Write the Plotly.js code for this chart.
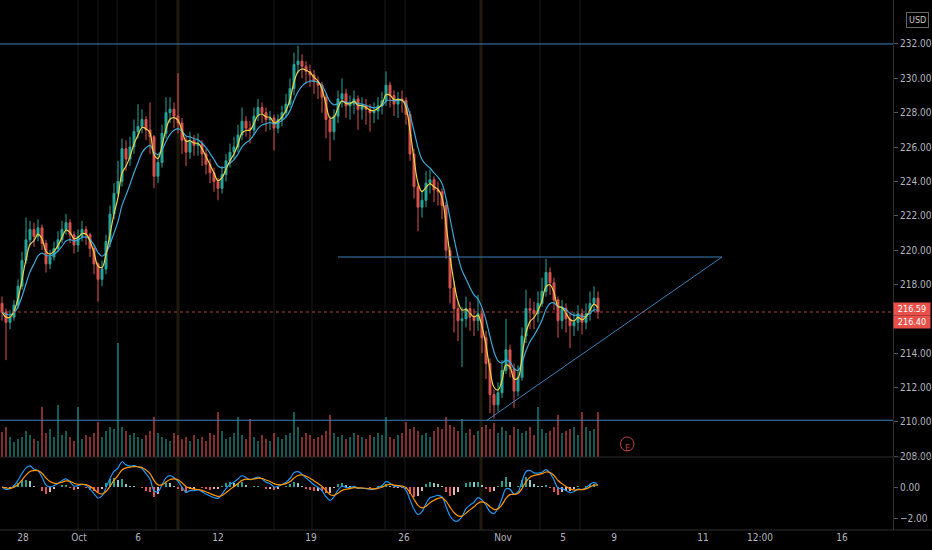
<!DOCTYPE html>
<html><head><meta charset="utf-8">
<script src="https://cdn.plot.ly/plotly-3.0.1.min.js"></script>
<style>html,body{margin:0;padding:0;background:#000;}#c{width:932px;height:550px;}</style>
</head><body><div id="c"></div>
<script>
const firstOpen = 216.9;
const closes = [216.4,215.8,216.1,216.8,217.9,219.4,220.6,221.2,220.8,221.3,
220.4,219.2,219.6,220.1,220.6,221.2,221.6,220.9,220.3,220.8,
221.2,220.9,220.1,219.2,218.3,218.9,220.5,222.1,223.3,224.0,
225.9,225.3,226.0,226.9,227.2,227.6,227.0,226.6,224.3,225.1,
226.8,228.0,228.2,227.8,227.4,226.4,225.7,226.4,226.1,226.2,
225.6,225.0,224.5,224.0,223.6,224.4,225.2,225.7,226.0,226.7,
227.5,227.1,227.0,227.8,228.3,228.0,227.6,227.7,227.1,227.6,
228.0,228.5,229.4,230.8,231.0,230.7,230.4,230.2,229.8,229.6,
228.9,227.6,226.9,227.8,228.8,229.1,228.4,228.5,228.8,228.2,
228.4,228.2,228.0,228.1,228.4,228.7,229.6,229.0,228.5,228.8,
228.7,227.9,225.6,223.7,222.5,222.9,223.9,224.1,223.5,223.4,
222.6,220.0,217.8,216.6,215.9,216.0,216.6,216.1,215.9,216.3,
214.9,213.4,211.6,211.0,211.7,213.0,214.2,213.1,211.8,212.6,
215.0,216.6,216.5,216.3,216.9,217.6,218.7,218.1,217.1,215.9,
216.6,216.0,215.6,215.8,216.3,215.8,216.3,216.9,217.2,216.4];
const highs = [217.3,216.6,216.5,217.1,218.3,219.9,221.9,221.7,221.6,221.8,
221.5,220.6,220.0,220.5,221.1,221.7,222.1,221.8,221.1,221.2,
221.7,221.4,221.0,220.3,219.3,219.4,220.9,222.6,223.9,225.2,
226.5,226.4,226.6,227.6,228.5,228.2,227.8,228.6,226.7,225.6,
227.3,228.9,228.9,228.6,230.3,227.7,226.6,226.9,226.7,226.8,
226.4,225.9,225.3,224.8,224.2,224.9,225.6,226.2,226.6,227.3,
228.3,227.8,227.5,228.3,228.8,228.6,228.3,228.1,227.9,227.9,
228.4,229.1,230.0,231.5,231.9,231.4,231.0,230.8,230.5,230.1,
229.8,229.1,227.8,228.2,229.3,230.0,229.4,229.0,229.3,229.0,
228.9,228.8,228.5,228.6,228.9,229.2,230.4,229.8,229.3,229.2,
229.3,228.9,228.1,225.9,223.9,223.5,224.6,224.7,224.3,224.0,
223.6,222.8,220.2,218.2,217.0,216.7,217.3,217.0,216.6,217.4,
216.6,215.3,213.7,211.9,212.3,213.6,216.0,214.5,213.4,213.3,
215.5,217.7,217.2,217.0,217.6,218.4,219.5,219.0,218.4,217.3,
217.1,216.9,216.3,216.4,216.8,216.6,216.9,217.6,217.9,217.6];
const lows = [215.9,213.6,215.4,215.9,216.6,217.7,219.2,220.3,220.2,220.5,
220.0,218.7,218.9,219.4,219.9,220.4,220.9,220.4,219.8,219.9,
220.5,220.3,219.6,218.6,217.0,217.9,218.6,220.2,221.8,223.2,
223.7,224.6,224.9,225.6,226.5,226.8,226.4,225.6,223.6,223.9,
224.8,226.5,227.4,227.1,226.8,225.6,224.9,225.3,225.5,225.5,
224.9,224.4,223.9,223.4,222.9,223.3,224.0,224.8,225.3,225.7,
226.4,226.6,226.2,226.7,227.5,227.4,226.9,227.0,225.8,226.8,
227.2,227.7,228.3,229.0,230.3,230.0,229.7,229.5,229.1,228.8,
228.0,226.5,225.2,226.4,227.4,228.3,227.7,227.6,227.9,227.0,
227.6,227.3,226.9,227.4,227.6,227.9,228.4,228.3,227.8,227.7,
228.0,227.3,225.2,223.0,221.1,221.9,222.5,223.3,222.8,222.6,
221.8,219.5,216.9,215.2,214.7,213.2,215.5,215.3,215.0,215.3,
214.0,212.5,210.5,210.2,210.6,211.4,212.8,212.6,210.8,211.5,
212.4,214.6,215.4,215.4,215.8,216.7,217.3,217.4,216.5,214.9,
215.4,215.2,214.3,215.0,215.3,215.1,215.4,215.9,216.4,216.0];
const volumes = [25,30,20,15,18,20,26,22,18,16,
50,24,28,20,52,22,26,20,16,50,
18,22,20,24,35,20,26,30,28,114,
30,26,22,24,20,18,22,26,40,24,
20,18,16,24,22,18,20,16,22,18,
20,16,24,22,45,26,18,20,24,40,
22,18,38,20,16,22,18,16,24,20,
18,22,24,45,30,20,24,22,18,20,
22,26,42,24,20,22,18,20,24,22,
20,18,22,20,24,22,40,20,18,22,
24,35,28,30,26,22,24,20,26,30,
28,40,32,30,26,38,24,28,22,26,
30,32,28,34,24,30,26,22,30,28,
24,26,30,22,50,28,24,26,30,42,
24,26,28,30,22,45,30,26,28,45];
const tickVals = [5.25,19.25,34,54,77.25,100.5,125.25,140.25,153,175.25,189.5,210];
const tickText = ['28','Oct','6','12','19','26','Nov','5','9','11','12:00','16'];
const priceTicks = [208,210,212,214,218,220,222,224,226,228,230,232];
const levels = {top:232.0, mid:219.6, low:210.1};
const lastPrice = 216.40, lastLabelA = '216.59', lastLabelB = '216.40';
const sepGrey = [19,24,28.75,38.5,68,77.5,95.75,100.75,134.5,144.5];
const sepAmber = [44,119.75];

const n = closes.length;
const idx = closes.map((_, i) => i);
const opens = [firstOpen].concat(closes.slice(0, -1));
function ema(arr, p) { const a = 2 / (p + 1); const out = []; let e = arr[0];
  arr.forEach((v, i) => { e = i === 0 ? v : a * v + (1 - a) * e; out.push(e); }); return out; }
const emaFast = ema(closes, 3), emaSlow = ema(closes, 8);
const e3 = ema(closes, 3), e7 = ema(closes, 7);
const macd = e3.map((v, i) => v - e7[i]);
const signal = ema(macd, 4);
const hist = macd.map((v, i) => v - signal[i]);
const histCol = hist.map((h, i) => { const p = i ? hist[i - 1] : 0;
  return h >= 0 ? (h >= p ? '#2a9d8f' : '#8fc9c1') : (h < p ? '#e05555' : '#e6b0b4'); });
const volCol = closes.map((c, i) => c >= opens[i] ? 'rgba(38,166,154,0.55)' : 'rgba(239,83,80,0.55)');

const traces = [
  {type:'bar', x:idx, y:volumes, marker:{color:volCol, line:{width:0}}, width:0.5, xaxis:'x', yaxis:'y', hoverinfo:'skip'},
  {type:'candlestick', x:idx, open:opens, high:highs, low:lows, close:closes, xaxis:'x', yaxis:'y3',
   increasing:{line:{color:'#26a69a', width:1}, fillcolor:'#26a69a'},
   decreasing:{line:{color:'#d9534f', width:1}, fillcolor:'#d9534f'}, whiskerwidth:0, hoverinfo:'skip'},
  {type:'scatter', mode:'lines', x:idx, y:emaSlow, line:{color:'#3aa8d8', width:1.2, shape:'spline'}, xaxis:'x', yaxis:'y3', hoverinfo:'skip'},
  {type:'scatter', mode:'lines', x:idx, y:emaFast, line:{color:'#e8d24a', width:1.2, shape:'spline'}, xaxis:'x', yaxis:'y3', hoverinfo:'skip'},
  {type:'bar', x:idx, y:hist, marker:{color:histCol, line:{width:0}}, width:0.55, xaxis:'x', yaxis:'y2', hoverinfo:'skip'},
  {type:'scatter', mode:'lines', x:idx, y:macd, line:{color:'#2196f3', width:1.2, shape:'spline'}, xaxis:'x', yaxis:'y2', hoverinfo:'skip'},
  {type:'scatter', mode:'lines', x:idx, y:signal, line:{color:'#ff9800', width:1.2, shape:'spline'}, xaxis:'x', yaxis:'y2', hoverinfo:'skip'}
];

const shapes = [];
sepGrey.forEach(v => shapes.push({type:'line', xref:'x', yref:'paper', x0:v, x1:v, y0:0, y1:1, line:{color:'#181818', width:1}, layer:'below'}));
sepAmber.forEach(v => shapes.push({type:'line', xref:'x', yref:'paper', x0:v, x1:v, y0:0, y1:1, line:{color:'#1e1a0a', width:3}, layer:'below'}));
shapes.push({type:'line', xref:'paper', yref:'y3', x0:0, x1:1, y0:levels.top, y1:levels.top, line:{color:'#3d7fb8', width:1}});
shapes.push({type:'line', xref:'paper', yref:'y3', x0:0, x1:1, y0:levels.low, y1:levels.low, line:{color:'#3d7fb8', width:1}});
shapes.push({type:'line', xref:'x', yref:'y3', x0:84, x1:180, y0:levels.mid, y1:levels.mid, line:{color:'#3d7fb8', width:1}});
shapes.push({type:'line', xref:'x', yref:'y3', x0:121.25, x1:180, y0:levels.low, y1:levels.mid, line:{color:'#3d7fb8', width:1}});
shapes.push({type:'line', xref:'paper', yref:'y3', x0:0, x1:1, y0:lastPrice, y1:lastPrice, line:{color:'#b04040', width:1, dash:'dot'}});
shapes.push({type:'line', xref:'paper', yref:'paper', x0:0, x1:1.0437, y0:0.1377, y1:0.1377, line:{color:'#2e2e2e', width:1}});
shapes.push({type:'line', xref:'paper', yref:'paper', x0:0, x1:1.0437, y0:0, y1:0, line:{color:'#2e2e2e', width:1}});
shapes.push({type:'circle', xref:'x', yref:'paper', x0:154.6, x1:158, y0:0.1490, y1:0.1755, line:{color:'#c0403c', width:1}});

const annotations = [
  {xref:'paper', yref:'paper', x:1.04, y:0.977, text:'USD', showarrow:false, font:{size:9, color:'#c8c8c8'}, bordercolor:'#666', borderwidth:1, borderpad:2},
  {xref:'paper', yref:'y3', x:1, y:lastPrice, yshift:3, xanchor:'left', yanchor:'middle', text:lastLabelA, showarrow:false, font:{size:9, color:'#fff'}, bgcolor:'#e8504a', width:36, height:12, borderpad:0},
  {xref:'paper', yref:'y3', x:1, y:lastPrice, yshift:-10, xanchor:'left', yanchor:'middle', text:lastLabelB, showarrow:false, font:{size:9, color:'#fff'}, bgcolor:'#e8504a', width:36, height:12, borderpad:0},
  {xref:'x', yref:'paper', x:156.3, y:0.1623, yanchor:'middle', yshift:-4, text:'E', showarrow:false, font:{size:9, color:'#c0403c'}}
];

const axFont = {family:'DejaVu Sans Condensed, Liberation Sans Narrow, Roboto, sans-serif', size:10, color:'#b2b5be'};
const layout = {
  width:932, height:550, paper_bgcolor:'#000', plot_bgcolor:'#000',
  margin:{l:0, r:39, t:0, b:20}, showlegend:false, font:axFont, bargap:0,
  xaxis:{range:[-0.5,222.75], tickvals:tickVals, ticktext:tickText, showgrid:false, zeroline:false,
    rangeslider:{visible:false}, anchor:'y2', showline:false, ticks:'', tickfont:axFont, fixedrange:true},
  yaxis:{domain:[0.1377,1], range:[0,457], visible:false, fixedrange:true},
  yaxis3:{overlaying:'y', side:'right', anchor:'x', range:[207.96,234.56], tickvals:priceTicks, tickformat:'.2f',
    showgrid:false, zeroline:false, showline:true, linecolor:'#2e2e2e', ticks:'outside', ticklen:4, tickcolor:'#555', tickfont:axFont},
  yaxis2:{domain:[0,0.1358], side:'right', anchor:'x', range:[-2.77,1.87], tickvals:[0,-2], tickformat:'.2f',
    showgrid:false, zeroline:false, showline:true, linecolor:'#2e2e2e', ticks:'outside', ticklen:4, tickcolor:'#555', tickfont:axFont},
  shapes:shapes, annotations:annotations
};
Plotly.newPlot('c', traces, layout, {staticPlot:true, displayModeBar:false});
</script></body></html>
